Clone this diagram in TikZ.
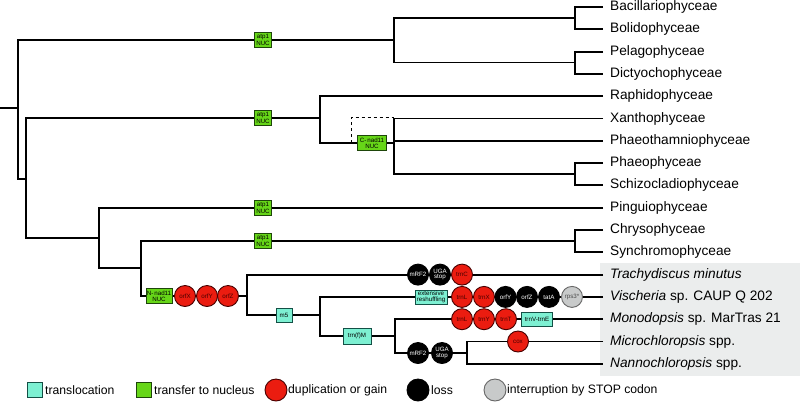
\documentclass[tikz,border=0pt]{standalone}
\usepackage{fontspec}
\setmainfont{Liberation Sans}
\definecolor{nucgreen}{RGB}{102,214,24}
\definecolor{nucdark}{RGB}{30,70,10}
\definecolor{trcyan}{RGB}{125,240,210}
\definecolor{trdark}{RGB}{20,80,70}
\definecolor{gainred}{RGB}{235,28,16}
\definecolor{gaindark}{RGB}{70,0,0}
\definecolor{stopgrey}{RGB}{200,202,202}
\definecolor{bggrey}{RGB}{235,237,237}
\begin{document}
\begin{tikzpicture}[x=1pt,y=-1pt,
 br/.style={line width=1.9pt},
 tiny/.style={font=\fontsize{6.2}{5.6}\selectfont},
 nucbox/.style={draw=nucdark, fill=nucgreen, line width=0.8pt, inner sep=0pt, minimum width=17pt, minimum height=15pt, align=center, tiny},
 trbox/.style={draw=trdark, fill=trcyan, line width=0.8pt, inner sep=1pt, minimum height=14pt, align=center, tiny},
 gain/.style={circle, draw=gaindark, fill=gainred, line width=0.9pt, minimum size=21pt, inner sep=0pt, align=center, text=gaindark, tiny},
 loss/.style={circle, draw=black, fill=black, line width=0.9pt, minimum size=21pt, inner sep=0pt, align=center, text=white, tiny},
 stopc/.style={circle, draw=black!60, fill=stopgrey, line width=0.9pt, minimum size=21pt, inner sep=0pt, align=center, text=black!70, tiny},
 taxon/.style={anchor=west, inner sep=0pt, font=\fontsize{13.7}{15}\selectfont},
 leg/.style={anchor=west, inner sep=0pt, font=\fontsize{12.2}{14}\selectfont}
]
\useasboundingbox (0,0) rectangle (800,413);
\fill[bggrey] (600,263) rectangle (800,376);

% leaf ends
\foreach \n/\y in {1/7,2/29.3,3/51.6,4/73.9,5/96.2,6/118.5,7/140.8,8/163.1,9/185.4,10/207.7,11/230,12/252.3,13/274.6,14/296.9,15/319.2,16/341.5,17/363.8}
  \coordinate (l\n) at (603,\y);

% tree
\coordinate (root) at (0,108);
\draw[br] (root) -- (18,108);
\draw[br] (394,40) -| (18,179) -- (26,179);
\draw[br] (320,118) -| (26,238) -- (99,238);
% clade A
\draw[br] (575,18) -| (394,62.5) -- (575,62.5);
\draw[br] (l1) -| (575,29.3) -- (l2);
\draw[br] (l3) -| (575,73.9) -- (l4);
% clade B
\draw[br] (l5) -| (320,143) -- (394,143);
\draw[br] (l6) -| (394,174) -- (575,174);
\draw[br] (394,140.8) -- (l7);
\draw[br] (l8) -| (575,185.4) -- (l9);
\draw[dashed, line width=1pt] (351,143) -- (351,117.5) -- (394,117.5);
% clade C
\draw[br] (l10) -| (99,268) -- (141,268);
\draw[br] (575,241) -| (141,296) -- (247,296);
\draw[br] (l11) -| (575,252.3) -- (l12);
% Eustigmatophyceae
\draw[br] (l13) -| (247,315) -- (320,315);
\draw[br] (l14) -| (320,336) -- (395,336);
\draw[br] (l15) -| (395,353) -- (467,353);
\draw[br] (l16) -| (467,363.8) -- (l17);

% markers
\node[nucbox] (a1) at (263,40) {atp1\\NUC};
\node[nucbox] (a2) at (263,118) {atp1\\NUC};
\node[nucbox] (a3) at (263,207.7) {atp1\\NUC};
\node[nucbox] (a4) at (263,241) {atp1\\NUC};
\node[nucbox, minimum width=29pt] (cn) at (372,143) {C-\,nad11\\NUC};
\node[nucbox, minimum width=26pt] (nn) at (159,296) {N-\,nad11\\NUC};
\node[gain] (ox) at (185,296) {orfX};
\node[gain] (oy) at (207,296) {orfY};
\node[gain] (oz) at (228,296) {orfZ};

\node[loss] (m1) at (418,274.6) {mRF2};
\node[loss] (u1) at (440,274.6) {UGA\\stop};
\node[gain] (tc) at (462,274.6) {trnC};

\node[trbox, minimum width=16pt] (m5) at (284,315) {m5};
\node[trbox, minimum width=32pt] (ex) at (431,296.9) {extensive\\reshuffling};
\node[gain] (v1) at (462,296.9) {trnL};
\node[gain] (v2) at (484,296.9) {trnX};
\node[loss] (v3) at (505.5,296.9) {orfY};
\node[loss] (v4) at (527,296.9) {orfZ};
\node[loss] (v5) at (549,296.9) {tatA};
\node[stopc] (v6) at (572,296.9) {rps3*};

\node[trbox, minimum width=28pt, minimum height=16pt] (fm) at (357,336) {trn(f)M};
\node[gain] (d1) at (462,319.2) {trnL};
\node[gain] (d2) at (484,319.2) {trnY};
\node[gain] (d3) at (506,319.2) {trnT};
\node[trbox, minimum width=31pt] (ve) at (537,319.2) {trnV-trnE};

\node[loss] (m2) at (418,353) {mRF2};
\node[loss] (u2) at (442,353) {UGA\\stop};
\node[gain] (cx) at (518,341.5) {cox};

% labels
\node[taxon] (t1) at (610,7) {Bacillariophyceae};
\node[taxon] (t2) at (610,29.3) {Bolidophyceae};
\node[taxon] (t3) at (610,51.6) {Pelagophyceae};
\node[taxon] (t4) at (610,73.9) {Dictyochophyceae};
\node[taxon] (t5) at (610,96.2) {Raphidophyceae};
\node[taxon] (t6) at (610,118.5) {Xanthophyceae};
\node[taxon] (t7) at (610,140.8) {Phaeothamniophyceae};
\node[taxon] (t8) at (610,163.1) {Phaeophyceae};
\node[taxon] (t9) at (610,185.4) {Schizocladiophyceae};
\node[taxon] (t10) at (610,207.7) {Pinguiophyceae};
\node[taxon] (t11) at (610,230) {Chrysophyceae};
\node[taxon] (t12) at (610,252.3) {Synchromophyceae};
\node[taxon] (t13) at (610,274.6) {\textit{Trachydiscus minutus}};
\node[taxon] (t14) at (610,296.9) {\textit{Vischeria} sp. CAUP Q 202};
\node[taxon] (t15) at (610,319.2) {\textit{Monodopsis} sp. MarTras 21};
\node[taxon] (t16) at (610,341.5) {\textit{Microchloropsis} spp.};
\node[taxon] (t17) at (610,363.8) {\textit{Nannochloropsis} spp.};

% legend
\node[trbox, minimum width=15pt, minimum height=15pt, inner sep=0pt] (k1) at (34.5,390) {};
\node[leg] (k1t) at (45,390) {translocation};
\node[nucbox, minimum width=15pt, minimum height=15pt] (k2) at (143.5,390) {};
\node[leg] (k2t) at (154,390) {transfer to nucleus};
\node[gain, minimum size=22pt] (k3) at (276,390) {};
\node[leg] (k3t) at (288,390) {duplication or gain};
\node[loss, minimum size=22pt] (k4) at (418,390) {};
\node[leg] (k4t) at (431,390) {loss};
\node[stopc, minimum size=22pt] (k5) at (495,390) {};
\node[leg] (k5t) at (507,390) {interruption by STOP codon};
\end{tikzpicture}
\end{document}
